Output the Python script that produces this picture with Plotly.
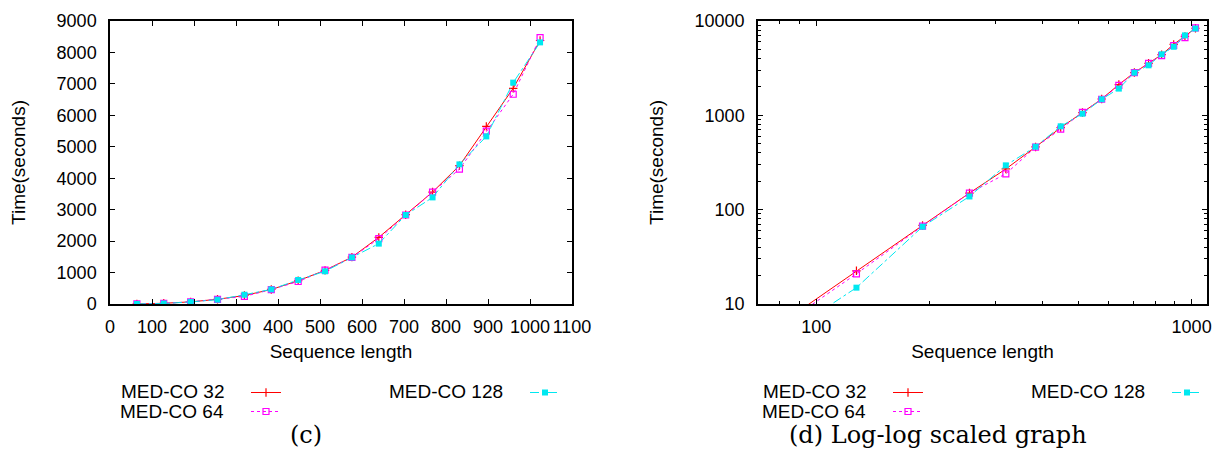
import plotly.graph_objects as go

seq_len = [64, 128, 192, 256, 320, 384, 448, 512, 576, 640, 704, 768, 832, 896, 960, 1024]
medco_32 = [3.3, 22.5, 68, 150, 270, 462, 740, 1070, 1490, 2120, 2840, 3560, 4400, 5650, 6860, 8380]
medco_64 = [3.1, 20.9, 67, 150, 240, 460, 715, 1075, 1480, 2080, 2830, 3560, 4290, 5500, 6670, 8470]
medco_128 = [2.4, 14.9, 66, 138, 295, 465, 765, 1040, 1480, 1920, 2830, 3390, 4440, 5330, 7040, 8320]
series_names = ["MED-CO 32", "MED-CO 64", "MED-CO 128"]
captions = ["(c)", "(d) Log-log scaled graph"]
log_y_ticks = [10, 100, 1000, 10000]
log_x_ticks = [100, 1000]

W, H = 1221, 451
FONT = "Liberation Sans, Arial, sans-serif"
FS = 18
TFS = 19

styles = [
    dict(color="#ff0000", dash="solid", symbol="cross-thin-open", size=6, mlw=1.2),
    dict(color="#ff00ff", dash="dot", symbol="square-open", size=6, mlw=1.2),
    dict(color="#00e8f0", dash="dashdot", symbol="square", size=6, mlw=0),
]
series = [medco_32, medco_64, medco_128]

fig = go.Figure()

legends_for = {1: ["legend", "legend", "legend2"], 2: ["legend3", "legend3", "legend4"]}
for panel, (xa, ya) in enumerate([("x", "y"), ("x2", "y2")], start=1):
    for i, (name, vals, st) in enumerate(zip(series_names, series, styles)):
        fig.add_trace(go.Scatter(
            x=seq_len, y=vals, name=" ", mode="lines+markers",
            xaxis=xa, yaxis=ya,
            line=dict(color=st["color"], width=1, dash=st["dash"]),
            marker=dict(symbol=st["symbol"], size=st["size"], color=st["color"],
                        line=dict(color=st["color"], width=st["mlw"])),
            legend=legends_for[panel][i], cliponaxis=True,
        ))

ydom = [1 - 304 / H, 1 - 21 / H]
axis_common = dict(showline=True, linecolor="black", linewidth=1.5, mirror="ticks",
                   ticks="inside", ticklen=5, tickcolor="black", showgrid=False,
                   zeroline=False, automargin=False, tickangle=0,
                   tickfont=dict(family=FONT, size=FS, color="black"))
title_font = dict(family=FONT, size=TFS, color="black")

fig.update_layout(
    width=W, height=H, margin=dict(l=0, r=0, t=0, b=0, autoexpand=False),
    paper_bgcolor="white", plot_bgcolor="white",
    font=dict(family=FONT, size=FS, color="black"),
    xaxis=dict(domain=[110 / W, 572 / W], range=[0, 1100], dtick=100, tick0=0,
               anchor="y", ticklabelstandoff=6,
               title=dict(text="Sequence length", standoff=8, font=title_font), **axis_common),
    yaxis=dict(domain=ydom, range=[0, 9000], dtick=1000, anchor="x",
               ticklabelstandoff=8,
               title=dict(text="Time(seconds)", standoff=26, font=title_font), **axis_common),
    xaxis2=dict(domain=[758 / W, 1207 / W], type="log", range=[1.845, 3.041],
                tickvals=log_x_ticks, ticktext=[str(v) for v in log_x_ticks],
                anchor="y2", ticklabelstandoff=6,
                minor=dict(ticks="inside", ticklen=3, tickcolor="black",
                           tickvals=[70, 80, 90, 200, 300, 400, 500, 600, 700, 800, 900]),
                title=dict(text="Sequence length", standoff=8, font=title_font), **axis_common),
    yaxis2=dict(domain=ydom, type="log", range=[1, 4], tickvals=log_y_ticks,
                ticktext=[str(v) for v in log_y_ticks],
                anchor="x2", ticklabelstandoff=8,
                minor=dict(ticks="inside", ticklen=3, tickcolor="black",
                           tickvals=[v * m for m in (10, 100, 1000) for v in range(2, 10)]),
                title=dict(text="Time(seconds)", standoff=26, font=title_font), **axis_common),
)

leg_common = dict(bgcolor="rgba(0,0,0,0)", borderwidth=0, orientation="v",
                  xanchor="left", yanchor="top", itemwidth=30,
                  font=dict(family=FONT, size=11), tracegroupgap=0)
fig.update_layout(
    legend=dict(x=246 / W, y=1 - 378 / H, **leg_common),
    legend2=dict(x=525 / W, y=1 - 378 / H, **leg_common),
    legend3=dict(x=888 / W, y=1 - 378 / H, **leg_common),
    legend4=dict(x=1167 / W, y=1 - 378 / H, **leg_common),
)

# legend labels (text placed to the left of the samples, gnuplot style)
label_pos = [(226, 391.7), (226, 411), (505, 391.7)]
for off in (0, 642):
    for name, (xr, yc) in zip(series_names, label_pos):
        fig.add_annotation(x=(xr + off) / W, y=1 - yc / H, xref="paper", yref="paper",
                           text=name, showarrow=False, xanchor="right", yanchor="middle",
                           font=dict(family=FONT, size=TFS, color="black"))

for text, xc in zip(captions, [306, 938]):
    fig.add_annotation(x=xc / W, y=1 - 435 / H, xref="paper", yref="paper", text=text,
                       showarrow=False, xanchor="center", yanchor="middle",
                       font=dict(family="DejaVu Serif, serif", size=24, color="black"))

fig.write_html("out.html", config={"displayModeBar": False},
               post_script="document.body.style.margin='0px';")
